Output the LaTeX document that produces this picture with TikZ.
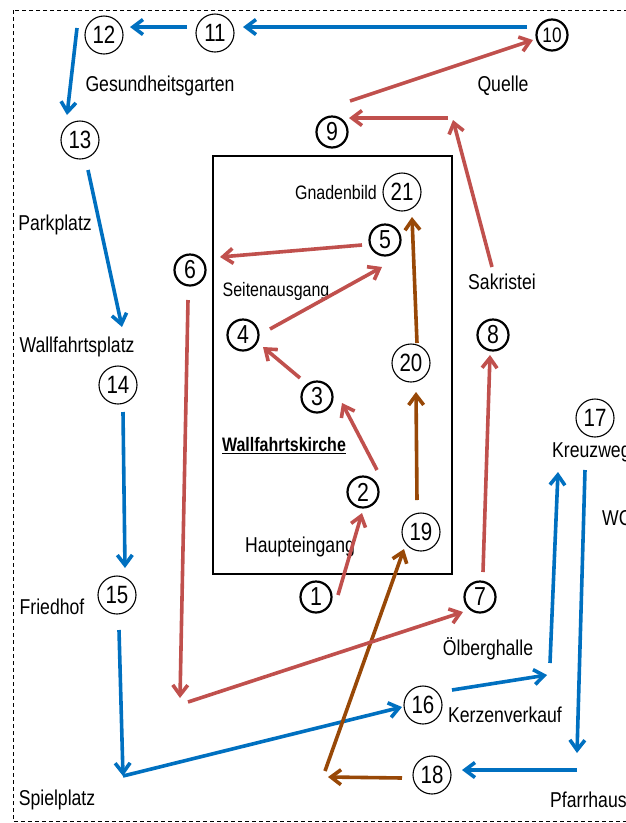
\documentclass[tikz,border=0pt]{standalone}
\usepackage{fontspec}
\setmainfont{Liberation Sans}[FakeStretch=0.82]
\usetikzlibrary{arrows.meta,calc}
\definecolor{wegblau}{RGB}{0,112,192}
\definecolor{wegrot}{RGB}{192,80,77}
\definecolor{wegbraun}{RGB}{152,72,7}
\tikzset{
	station/.style={circle, draw, line width=1.1pt, minimum size=38pt, inner sep=0pt, font=\fontsize{25}{25}\selectfont},
	ziffer/.style={circle, draw, line width=2.2pt, minimum size=31pt, inner sep=0pt, font=\fontsize{26}{26}\selectfont},
	ort/.style={inner sep=0pt, font=\fontsize{21.5}{24}\selectfont},
	ortklein/.style={inner sep=0pt, font=\fontsize{19.5}{22}\selectfont},
	weg/.style={line width=3.6pt, -{Straight Barb[length=10pt, width=15pt]}},
	blauweg/.style={weg, color=wegblau},
	rotweg/.style={weg, color=wegrot},
	braunweg/.style={weg, color=wegbraun}
}

\begin{document}
\begin{tikzpicture}[x=1pt, y=-1pt]
		%%%%% START %%%%%
		\useasboundingbox (0,0) rectangle (625,823);
		\draw[line width=1pt, dash pattern=on 4pt off 3pt] (13,10) rectangle (640,821);
		\draw[line width=2pt] (213,156) rectangle (452,574);
		
		\node[ziffer] (n1) at (316,597) {1};
		\node[ziffer] (n2) at (363,492) {2};
		\node[ziffer] (n3) at (317,397) {3};
		\node[ziffer] (n4) at (243,335) {4};
		\node[ziffer] (n5) at (385,240) {5};
		\node[ziffer] (n6) at (190,270) {6};
		\node[ziffer] (n7) at (480,597) {7};
		\node[ziffer] (n8) at (493,335) {8};
		\node[ziffer] (n9) at (332,132) {9};
		\node[ziffer, font=\fontsize{21}{21}\selectfont] (n10) at (552,35) {10};
		\node[station] (n11) at (215,33) {11};
		\node[station] (n12) at (104,35) {12};
		\node[station] (n13) at (80,140) {13};
		\node[station] (n14) at (118,385) {14};
		\node[station] (n15) at (117,595) {15};
		\node[station] (n16) at (423,705) {16};
		\node[station] (n17) at (595,418) {17};
		\node[station] (n18) at (432,775) {18};
		\node[station] (n19) at (421,532) {19};
		\node[station] (n20) at (411,363) {20};
		\node[station] (n21) at (402,192) {21};
		
		\node[ort] (tGesund) at (160,86) {Gesundheitsgarten};
		\node[ort] (tQuelle) at (503,86) {Quelle};
		\node[ort] (tPark) at (55,225) {Parkplatz};
		\node[ortklein] (tGnaden) at (336,193) {Gnadenbild};
		\node[ortklein] (tSeiten) at (276,291) {Seitenausgang};
		\node[ort] (tSakr) at (502,282) {Sakristei};
		\node[ort] (tWplatz) at (77,347) {Wallfahrtsplatz};
		\node[ortklein] (tKirche) at (284,446) {\underline{\textbf{Wallfahrtskirche}}};
		\node[ort, anchor=west] (tKreuz) at (552,452) {Kreuzweg};
		\node[ort, anchor=west] (tWC) at (602,518) {WC};
		\node[ort] (tHaupt) at (300,547) {Haupteingang};
		\node[ort] (tFried) at (52,607) {Friedhof};
		\node[ort] (tOel) at (488,649) {Ölberghalle};
		\node[ort] (tKerzen) at (505,715) {Kerzenverkauf};
		\node[ort] (tSpiel) at (57,800) {Spielplatz};
		\node[ort, anchor=west] (tPfarr) at (550,800) {Pfarrhaus};
		
		\coordinate (eSpiel) at (123,776);
		\coordinate (eKerz) at (547,675);
		\coordinate (ePfarr) at (577,753);
		\coordinate (eBraun) at (328,777);
		\coordinate (eRot) at (180,698);
		\coordinate (eSakr) at (453,120);
		
		\draw[blauweg] ($(n10)+(-25,-8)$) -- ($(n11)+(28,-6)$);
		\draw[blauweg] ($(n11)+(-28,-6)$) -- ($(n12)+(26,-8)$);
		\draw[blauweg] ($(n12)+(-27,-7)$) -- ($(n13)+(-13,-25)$);
		\draw[blauweg] ($(n13)+(8,30)$) -- ($(n14)+(4,-58)$);
		\draw[blauweg] ($(n14)+(5,27)$) -- ($(n15)+(8,-27)$);
		\draw[blauweg] ($(n15)+(2,35)$) -- (eSpiel);
		\draw[blauweg] (eSpiel) -- ($(n16)+(-21,2)$);
		\draw[blauweg] ($(n16)+(29,-15)$) -- (eKerz);
		\draw[blauweg] ($(eKerz)+(3,-12)$) -- ($(n17)+(-37,54)$);
		\draw[blauweg] ($(n17)+(-10,52)$) -- (ePfarr);
		\draw[blauweg] ($(ePfarr)+(0,17)$) -- ($(n18)+(30,-5)$);
		
		\draw[braunweg] ($(n18)+(-30,3)$) -- (eBraun);
		\draw[braunweg] ($(eBraun)+(-3,-6)$) -- ($(n19)+(-17,17)$);
		\draw[braunweg] ($(n19)+(-4,-32)$) -- ($(n20)+(5,29)$);
		\draw[braunweg] ($(n20)+(6,-20)$) -- ($(n21)+(10,25)$);
		
		\draw[rotweg] ($(n1)+(22,-2)$) -- ($(n2)+(-1,21)$);
		\draw[rotweg] ($(n2)+(14,-22)$) -- ($(n3)+(25,6)$);
		\draw[rotweg] ($(n3)+(-17,-19)$) -- ($(n4)+(20,12)$);
		\draw[rotweg] ($(n4)+(27,-6)$) -- ($(n5)+(-3,27)$);
		\draw[rotweg] ($(n5)+(-23,5)$) -- ($(n6)+(30,-13)$);
		\draw[rotweg] ($(n6)+(-2,30)$) -- (eRot);
		\draw[rotweg] ($(eRot)+(8,4)$) -- ($(n7)+(-17,15)$);
		\draw[rotweg] ($(n7)+(3,-25)$) -- ($(n8)+(-3,20)$);
		\draw[rotweg] ($(tSakr)+(-10,-15)$) -- (eSakr);
		\draw[rotweg] ($(eSakr)+(-5,-2)$) -- ($(n9)+(17,-14)$);
		\draw[rotweg] ($(n9)+(18,-31)$) -- ($(n10)+(-19,5)$);
		
		%%%%% END %%%%%
	\end{tikzpicture}
\end{document}
